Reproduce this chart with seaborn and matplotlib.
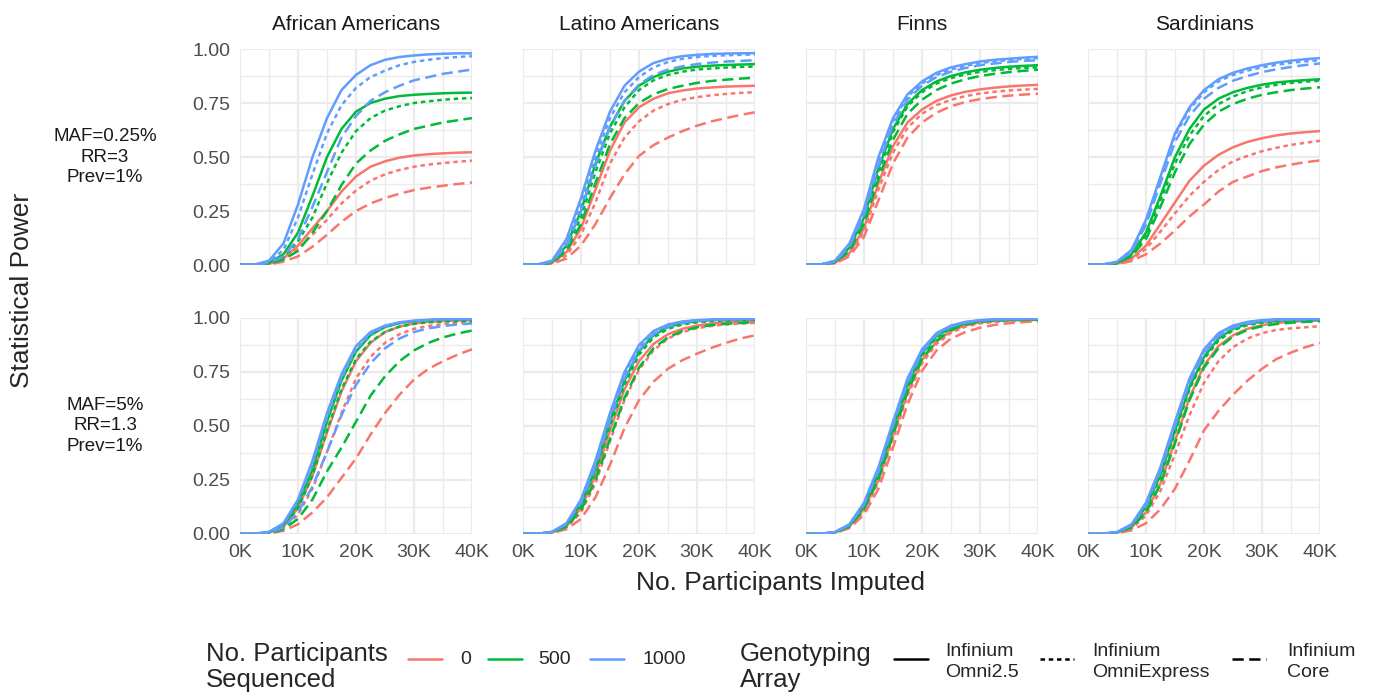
import numpy as np
import pandas as pd
import matplotlib
matplotlib.use("Agg")
import matplotlib.pyplot as plt
from matplotlib.lines import Line2D
from matplotlib.ticker import MultipleLocator, FuncFormatter
import seaborn as sns

# =======================================
# Data
# =======================================
N_IMPUTED = [0, 2500, 5000, 7500, 10000, 12500, 15000, 17500, 20000,
             22500, 25000, 27500, 30000, 32500, 35000, 37500, 40000]

SEQUENCED = ["0", "500", "1000"]
ARRAYS = ["Infinium\nOmni2.5", "Infinium\nOmniExpress", "Infinium\nCore"]
POPULATIONS = ["African Americans", "Latino Americans", "Finns", "Sardinians"]
SCENARIOS = ["MAF=0.25%\nRR=3\nPrev=1%", "MAF=5%\nRR=1.3\nPrev=1%"]

# row order in every panel:
# seq 0 (Omni2.5, OmniExpress, Core), seq 500 (...), seq 1000 (...)
POWER_AFR_RARE = [
    [0, .001, .005, .03, .09, .17, .25, .34, .41, .455, .48, .497, .507, .513, .517, .52, .522],
    [0, .001, .004, .025, .075, .14, .21, .285, .345, .39, .42, .44, .455, .465, .472, .478, .483],
    [0, .001, .003, .015, .04, .085, .14, .20, .25, .285, .31, .33, .347, .358, .367, .375, .382],
    [0, .001, .01, .05, .15, .32, .50, .63, .71, .75, .77, .782, .788, .792, .795, .797, .798],
    [0, .001, .008, .035, .11, .22, .38, .52, .62, .68, .715, .735, .75, .758, .765, .77, .773],
    [0, .001, .006, .025, .065, .15, .25, .37, .47, .53, .575, .605, .63, .645, .66, .67, .68],
    [0, .002, .02, .10, .28, .50, .68, .81, .88, .925, .95, .963, .97, .975, .978, .98, .98],
    [0, .002, .015, .07, .22, .42, .61, .74, .82, .87, .90, .925, .94, .95, .958, .963, .967],
    [0, .001, .01, .04, .12, .27, .43, .59, .69, .76, .80, .83, .855, .87, .885, .895, .905],
]
POWER_LAT_RARE = [
    [0, .001, .01, .06, .17, .35, .53, .66, .73, .77, .795, .808, .817, .822, .826, .828, .83],
    [0, .001, .008, .045, .14, .29, .47, .59, .665, .715, .745, .765, .777, .786, .792, .797, .80],
    [0, .001, .006, .03, .09, .19, .31, .42, .505, .555, .59, .62, .645, .665, .68, .695, .707],
    [0, .002, .015, .09, .25, .47, .64, .76, .83, .87, .895, .91, .918, .923, .926, .928, .93],
    [0, .002, .013, .08, .22, .43, .61, .73, .81, .855, .88, .895, .905, .91, .914, .917, .919],
    [0, .001, .01, .065, .19, .38, .56, .68, .75, .79, .815, .83, .843, .852, .858, .863, .867],
    [0, .002, .02, .12, .31, .53, .71, .83, .895, .935, .955, .967, .973, .977, .979, .98, .981],
    [0, .002, .018, .10, .28, .50, .68, .80, .87, .915, .94, .955, .963, .968, .971, .973, .975],
    [0, .002, .015, .09, .25, .46, .64, .76, .835, .88, .905, .92, .93, .937, .942, .945, .948],
]
POWER_FIN_RARE = [
    [0, .001, .01, .055, .17, .38, .55, .66, .72, .76, .785, .802, .813, .821, .827, .831, .834],
    [0, .001, .009, .05, .155, .35, .52, .635, .70, .74, .765, .782, .794, .802, .808, .812, .815],
    [0, .001, .007, .04, .13, .30, .47, .59, .66, .705, .735, .755, .768, .777, .784, .789, .793],
    [0, .002, .015, .08, .22, .45, .63, .745, .81, .85, .875, .892, .904, .912, .918, .922, .925],
    [0, .002, .014, .075, .21, .43, .615, .735, .80, .84, .865, .882, .894, .902, .908, .912, .915],
    [0, .002, .012, .065, .19, .40, .58, .70, .765, .81, .84, .86, .875, .885, .893, .899, .904],
    [0, .002, .02, .10, .26, .50, .68, .79, .85, .89, .915, .93, .942, .95, .955, .96, .964],
    [0, .002, .018, .09, .24, .48, .665, .78, .84, .88, .905, .922, .935, .943, .949, .954, .958],
    [0, .002, .016, .085, .23, .46, .65, .765, .83, .87, .895, .912, .925, .933, .94, .945, .948],
]
POWER_SAR_RARE = [
    [0, .001, .006, .03, .09, .19, .29, .39, .46, .51, .545, .57, .587, .60, .609, .615, .62],
    [0, .001, .005, .025, .075, .155, .24, .32, .385, .44, .48, .505, .527, .543, .556, .566, .575],
    [0, .001, .004, .018, .05, .10, .16, .225, .28, .34, .385, .41, .435, .452, .465, .476, .484],
    [0, .001, .01, .05, .15, .32, .50, .63, .72, .77, .80, .82, .835, .845, .851, .856, .86],
    [0, .001, .009, .045, .14, .30, .47, .60, .69, .745, .78, .805, .822, .834, .843, .849, .853],
    [0, .001, .008, .04, .12, .27, .43, .56, .65, .71, .745, .77, .788, .80, .81, .817, .823],
    [0, .002, .015, .07, .21, .41, .61, .73, .81, .86, .89, .91, .925, .937, .946, .953, .958],
    [0, .002, .014, .065, .20, .40, .60, .72, .80, .85, .88, .90, .915, .927, .936, .943, .948],
    [0, .002, .012, .06, .185, .38, .57, .69, .77, .82, .853, .875, .893, .906, .917, .926, .933],
]
POWER_AFR_COMMON = [
    [0, .001, .007, .035, .12, .27, .47, .66, .80, .885, .935, .96, .975, .982, .986, .988, .99],
    [0, .001, .005, .027, .09, .21, .38, .56, .72, .82, .885, .925, .95, .963, .972, .978, .982],
    [0, .001, .003, .015, .045, .10, .17, .26, .35, .46, .56, .645, .715, .765, .80, .83, .855],
    [0, .001, .008, .04, .14, .30, .52, .71, .845, .92, .958, .976, .985, .99, .993, .994, .995],
    [0, .001, .007, .035, .12, .27, .48, .67, .81, .89, .935, .96, .973, .98, .984, .986, .988],
    [0, .001, .005, .022, .07, .16, .29, .40, .52, .64, .73, .80, .85, .885, .91, .928, .942],
    [0, .001, .01, .05, .16, .34, .56, .74, .87, .935, .965, .98, .988, .992, .994, .995, .996],
    [0, .001, .009, .045, .15, .32, .54, .72, .855, .925, .96, .977, .986, .99, .993, .994, .995],
    [0, .001, .006, .03, .10, .22, .38, .55, .69, .79, .86, .905, .935, .952, .963, .97, .975],
]
POWER_LAT_COMMON = [
    [0, .001, .007, .035, .12, .27, .48, .67, .80, .88, .925, .95, .965, .974, .98, .983, .985],
    [0, .001, .006, .03, .10, .235, .43, .62, .76, .85, .905, .935, .953, .963, .97, .974, .977],
    [0, .001, .005, .022, .07, .17, .32, .49, .62, .705, .765, .805, .835, .862, .885, .905, .92],
    [0, .001, .009, .044, .14, .30, .52, .71, .845, .92, .958, .976, .985, .99, .992, .993, .994],
    [0, .001, .008, .04, .13, .29, .50, .69, .83, .91, .95, .97, .98, .985, .988, .99, .991],
    [0, .001, .007, .033, .11, .25, .44, .63, .77, .86, .91, .94, .957, .967, .973, .977, .98],
    [0, .001, .01, .05, .16, .34, .56, .75, .875, .94, .97, .984, .99, .993, .995, .996, .997],
    [0, .001, .01, .048, .155, .33, .55, .74, .865, .935, .967, .982, .989, .992, .994, .995, .996],
    [0, .001, .009, .045, .145, .31, .53, .72, .85, .925, .96, .978, .987, .991, .993, .994, .995],
]
POWER_FIN_COMMON = [
    [0, .001, .007, .035, .115, .25, .455, .655, .805, .89, .94, .966, .98, .986, .989, .991, .992],
    [0, .001, .006, .032, .105, .24, .44, .64, .79, .88, .932, .96, .975, .982, .986, .988, .99],
    [0, .001, .005, .027, .09, .21, .40, .60, .755, .85, .905, .935, .955, .968, .976, .981, .985],
    [0, .001, .008, .04, .13, .28, .49, .69, .835, .915, .957, .977, .987, .991, .993, .994, .995],
    [0, .001, .008, .038, .125, .27, .48, .68, .825, .91, .953, .975, .985, .99, .992, .993, .994],
    [0, .001, .007, .035, .115, .255, .46, .66, .81, .895, .945, .97, .982, .988, .99, .992, .993],
    [0, .001, .009, .045, .145, .31, .52, .72, .855, .93, .965, .982, .99, .994, .996, .997, .997],
    [0, .001, .009, .044, .14, .30, .51, .71, .85, .925, .962, .98, .989, .993, .995, .996, .997],
    [0, .001, .008, .042, .135, .29, .50, .70, .84, .92, .96, .978, .988, .992, .994, .995, .996],
]
POWER_SAR_COMMON = [
    [0, .001, .006, .03, .10, .235, .43, .63, .78, .87, .92, .95, .967, .977, .983, .986, .988],
    [0, .001, .005, .025, .085, .20, .37, .55, .70, .80, .865, .905, .93, .945, .952, .957, .962],
    [0, .001, .004, .017, .05, .115, .21, .34, .48, .57, .645, .71, .765, .81, .84, .865, .885],
    [0, .001, .008, .038, .125, .275, .48, .68, .82, .905, .95, .972, .983, .988, .99, .991, .992],
    [0, .001, .007, .036, .12, .265, .47, .67, .81, .895, .943, .967, .979, .985, .988, .99, .991],
    [0, .001, .006, .03, .10, .23, .42, .62, .77, .86, .915, .945, .962, .972, .978, .982, .985],
    [0, .001, .009, .045, .145, .31, .52, .72, .855, .93, .965, .982, .99, .994, .995, .996, .997],
    [0, .001, .009, .043, .14, .30, .51, .71, .845, .925, .962, .98, .988, .992, .994, .995, .996],
    [0, .001, .008, .04, .13, .29, .50, .70, .835, .915, .955, .975, .985, .99, .992, .993, .994],
]

PANELS = {
    (0, 0): POWER_AFR_RARE, (0, 1): POWER_LAT_RARE,
    (0, 2): POWER_FIN_RARE, (0, 3): POWER_SAR_RARE,
    (1, 0): POWER_AFR_COMMON, (1, 1): POWER_LAT_COMMON,
    (1, 2): POWER_FIN_COMMON, (1, 3): POWER_SAR_COMMON,
}

# =======================================
# Styles
# =======================================
PALETTE = {"0": "#F8766D", "500": "#00BA38", "1000": "#619CFF"}
DASHES = {ARRAYS[0]: "", ARRAYS[1]: (1.8, 1.5), ARRAYS[2]: (4.5, 2.2)}
LW = 1.8
GRID = "#EBEBEB"
TICK_COL = "#4D4D4D"

W, H = 1373, 696


def fx(x):
    return x / W


def fy(y):
    return 1 - y / H


# =======================================
# Long table
# =======================================
rows = []
for (r, c), curves in PANELS.items():
    for k, vals in enumerate(curves):
        for n, p in zip(N_IMPUTED, vals):
            rows.append({"row": r, "col": c, "imputed": n, "power": p,
                         "sequenced": SEQUENCED[k // 3], "array": ARRAYS[k % 3]})
df = pd.DataFrame(rows)

# =======================================
# Figure
# =======================================
sns.set_style("white")
plt.rcParams["font.family"] = ["Liberation Sans", "DejaVu Sans"]

fig = plt.figure(figsize=(W / 100, H / 100), dpi=100)

COL_LEFT = [240, 523, 806, 1088]
ROW_BOTTOM = [265, 534]
PW, PH = 232, 216

for (r, c) in PANELS:
    ax = fig.add_axes([fx(COL_LEFT[c]), fy(ROW_BOTTOM[r]), PW / W, PH / H])
    sub = df[(df["row"] == r) & (df["col"] == c)]
    sns.lineplot(data=sub, x="imputed", y="power", hue="sequenced", style="array",
                 hue_order=SEQUENCED, style_order=ARRAYS, palette=PALETTE,
                 dashes=DASHES, linewidth=LW, estimator=None, errorbar=None,
                 legend=False, ax=ax)
    ax.set_xlim(0, 40000)
    ax.set_ylim(0, 1)
    ax.xaxis.set_major_locator(MultipleLocator(10000))
    ax.xaxis.set_minor_locator(MultipleLocator(5000))
    ax.yaxis.set_major_locator(MultipleLocator(0.25))
    ax.yaxis.set_minor_locator(MultipleLocator(0.125))
    ax.xaxis.set_major_formatter(FuncFormatter(lambda v, _: f"{int(v / 1000)}K"))
    ax.yaxis.set_major_formatter(FuncFormatter(lambda v, _: f"{v:.2f}"))
    ax.grid(which="major", color=GRID, linewidth=1.6)
    ax.grid(which="minor", color=GRID, linewidth=1.0)
    ax.set_axisbelow(True)
    for s in ax.spines.values():
        s.set_visible(False)
    ax.tick_params(which="both", length=0, labelsize=14, labelcolor=TICK_COL)
    ax.tick_params(axis="x", pad=7)
    ax.tick_params(axis="y", pad=7)
    ax.tick_params(labelbottom=(r == 1), labelleft=(c == 0))
    ax.set_xlabel("")
    ax.set_ylabel("")
    if r == 0:
        ax.set_title(POPULATIONS[c], fontsize=15, color="#1A1A1A", pad=14)

# row strips
for r, label in enumerate(SCENARIOS):
    yc = ROW_BOTTOM[r] - PH / 2
    fig.text(fx(105), fy(yc), label, ha="center", va="center",
             fontsize=13.5, color="#1A1A1A", linespacing=1.3)

# axis titles
fig.text(fx(22), fy(290), "Statistical Power", rotation=90,
         ha="center", va="center", fontsize=19)
fig.text(fx(780), fy(583), "No. Participants Imputed",
         ha="center", va="center", fontsize=19)

# =======================================
# Legends (drawn by hand, ggplot bottom style)
# =======================================
fig.text(fx(206), fy(667), "No. Participants\nSequenced", ha="left", va="center",
         fontsize=18.5, linespacing=1.15)
seq_keys = [(408, 460), (488, 538), (590, 642)]
for lvl, (kx, tx) in zip(SEQUENCED, seq_keys):
    fig.add_artist(Line2D([fx(kx), fx(kx + 34)], [fy(659), fy(659)],
                          transform=fig.transFigure, color=PALETTE[lvl], lw=LW))
    fig.text(fx(tx), fy(660), lvl, ha="left", va="center", fontsize=14)

fig.text(fx(740), fy(667), "Genotyping\nArray", ha="left", va="center",
         fontsize=18.5, linespacing=1.15)
arr_keys = [(894, 945), (1040, 1092), (1232, 1287)]
for lvl, (kx, tx) in zip(ARRAYS, arr_keys):
    ln = Line2D([fx(kx), fx(kx + 34)], [fy(659), fy(659)],
                transform=fig.transFigure, color="black", lw=LW)
    if DASHES[lvl]:
        ln.set_dashes(DASHES[lvl])
    fig.add_artist(ln)
    fig.text(fx(tx), fy(662), lvl, ha="left", va="center", fontsize=14,
             linespacing=1.25)

fig.savefig("out.png", dpi=100)
